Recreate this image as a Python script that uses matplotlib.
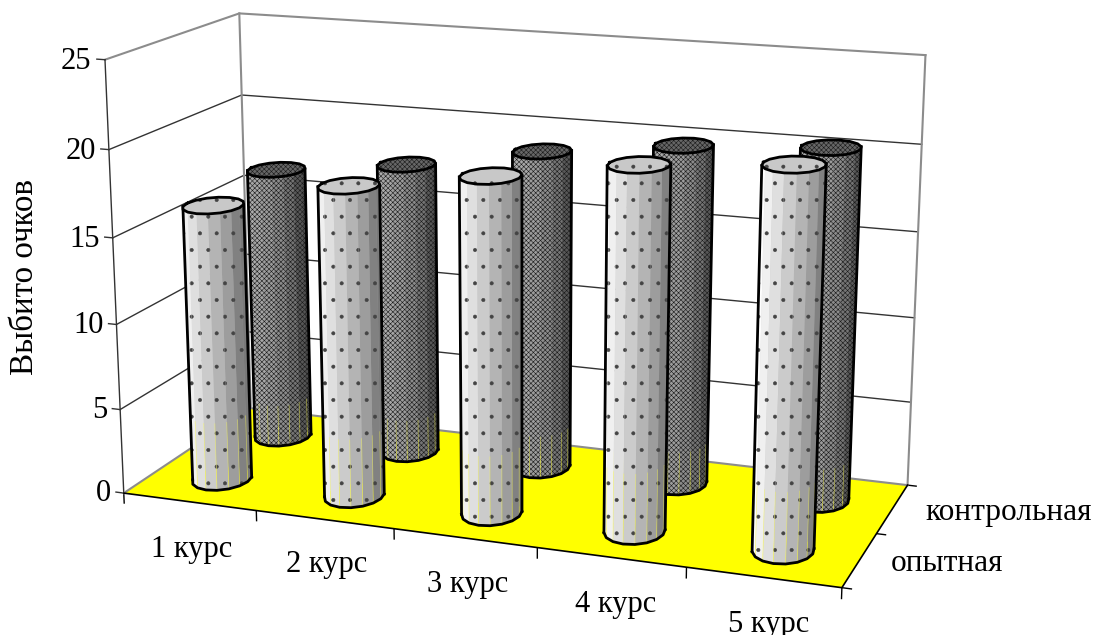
import numpy as np
import matplotlib
matplotlib.use("Agg")
import matplotlib.pyplot as plt
from mpl_toolkits.mplot3d import proj3d
from mpl_toolkits.mplot3d.art3d import Poly3DCollection

courses = ["1 курс", "2 курс", "3 курс", "4 курс", "5 курс"]
series_names = ["опытная", "контрольная"]
opytnaya = [16.25, 18.05, 19.25, 20.5, 21.15]
kontrolnaya = [16.55, 17.5, 18.9, 19.85, 20.35]
z_ticks = [0, 5, 10, 15, 20, 25]

plt.rcParams["font.family"] = ["Liberation Serif", "DejaVu Serif"]
plt.rcParams["hatch.linewidth"] = 0.4

fig = plt.figure(figsize=(10.96, 6.35), dpi=100)
ax = fig.add_axes([0.0542, -0.1589, 0.8133, 1.4037], projection="3d")
ax.set_xlim(0, 1)
ax.set_ylim(0, 1)
ax.set_zlim(0, 25)
ax.view_init(15.17, -69.94, 0.035)
ax.set_proj_type("persp", focal_length=0.5307)
ax.set_box_aspect((1, 0.3972, 0.5998))
ax.computed_zorder = False
ax.set_xticks([])
ax.set_yticks([])
ax.set_zticks([])
ax.set_axis_off()
ax.patch.set_alpha(0)

GRID = "#333333"
WALL = "#8c8c8c"

# walls
for z in z_ticks[1:-1]:
    ax.plot([0, 0, 1], [0, 1, 1], [z, z, z], color=GRID, lw=1, zorder=2)
ax.plot([0, 0, 1], [0, 1, 1], [25, 25, 25], color=WALL, lw=1.5, zorder=2)
ax.plot([0, 0], [1, 1], [0, 25], color=WALL, lw=1.5, zorder=2)
ax.plot([1, 1], [1, 1], [0, 25], color=WALL, lw=1.5, zorder=2)
ax.plot([0, 0], [0, 0], [0, 25], color=GRID, lw=1, zorder=2)

# floor
floor = Poly3DCollection([[(0, 0, 0), (1, 0, 0), (1, 1, 0), (0, 1, 0)]],
                         facecolor="#ffff00", edgecolor="none", zorder=3)
ax.add_collection3d(floor)
ax.plot([0, 0, 1], [0, 1, 1], [0, 0, 0], color=WALL, lw=1.5, zorder=4)
ax.plot([0, 1, 1], [0, 0, 1], [0, 0, 0], color="black", lw=1.2, zorder=4)

# ticks
for z in z_ticks:
    ax.plot([-0.012, 0], [0, 0], [z, z], color=GRID, lw=1, zorder=2)
    ax.text(-0.02, 0, z - 0.15, str(z), ha="right", va="center", fontsize=22)
for x in np.linspace(0, 1, len(courses) + 1):
    ax.plot([x, x], [0, 0], [0, -0.6], color="black", lw=1, zorder=2)
for y in np.linspace(0, 1, len(series_names) + 1):
    ax.plot([1, 1.012], [y, y], [0, 0], color="black", lw=1, zorder=2)

# labels
label_drop = [-2.9, -2.65, -2.65, -2.65, -2.6]
for i, name in enumerate(courses):
    ax.text((i + 0.5) / len(courses) + 0.002 * i, 0, label_drop[i], name, ha="center", va="center", fontsize=22)
ax.text(1.04, 0.25, 0, series_names[0], ha="left", va="center", fontsize=22.6)
ax.text(1.045, 0.75, 0, series_names[1], ha="left", va="center", fontsize=22.6)
fig.text(25 / 1096, 1 - 277 / 635, "Выбито очков", rotation=90, ha="center", va="center", fontsize=23.8)

# cylinders
n_sides = 16
theta = np.linspace(-180, 180, n_sides, endpoint=False)
rx = 0.039
ry = 0.125
shade_t = [-180, -150, -120, -90, -60, -30, 0, 180]
light_shade = [0.9, 1.0, 0.93, 0.84, 0.72, 0.6, 0.45, 0.9]
dark_shade = [0.5, 0.66, 0.68, 0.64, 0.56, 0.44, 0.28, 0.5]
M = ax.get_proj()


def cylinder(xc, yc, value, shades, hatch, cap_color, hatch_color, zo, yellow_top):
    xs = xc + rx * np.cos(np.radians(theta))
    ys = yc + ry * np.sin(np.radians(theta))
    sides, cols = [], []
    for i in range(n_sides):
        j = (i + 1) % n_sides
        sides.append([(xs[i], ys[i], 0), (xs[j], ys[j], 0), (xs[j], ys[j], value), (xs[i], ys[i], value)])
        g = np.interp(theta[i] + 11, shade_t, shades)
        cols.append((g, g, g))
    ax.add_collection3d(Poly3DCollection(sides, facecolors=cols, edgecolors=hatch_color, linewidths=0,
                                         hatch=hatch, zorder=zo))
    px, _, _ = proj3d.proj_transform(xs, ys, np.zeros(n_sides), M)
    il, ir = int(np.argmin(px)), int(np.argmax(px))
    arc = np.arange(il, ir + 1 if ir >= il else ir + n_sides + 1) % n_sides
    for k in arc:
        ax.plot([xs[k], xs[k]], [ys[k], ys[k]], [0, yellow_top], color="#ffff40", lw=0.5, alpha=0.5, zorder=zo + 0.05)
    ax.plot(xs[arc], ys[arc], np.zeros(len(arc)), color="black", lw=2, zorder=zo + 0.1)
    for k in (il, ir):
        ax.plot([xs[k], xs[k]], [ys[k], ys[k]], [0, value], color="black", lw=2, zorder=zo + 0.1)
    cap = [list(zip(xs, ys, np.full(n_sides, value)))]
    ax.add_collection3d(Poly3DCollection(cap, facecolors=cap_color, edgecolors=hatch_color, linewidths=0,
                                         hatch=hatch, zorder=zo + 0.2))
    ax.plot(np.r_[xs, xs[0]], np.r_[ys, ys[0]], np.full(n_sides + 1, value), color="black", lw=2, zorder=zo + 0.3)


for i, v in enumerate(kontrolnaya):
    cylinder((i + 0.5) / 5, 0.75, v, dark_shade, "xxxxxxx", "#666666", "#1a1a1a", 10 + i, 2.5)
for i, v in enumerate(opytnaya):
    cylinder((i + 0.5) / 5, 0.25, v, light_shade, ".", "#c8c8c8", "#444444", 20 + i, 4)

fig.savefig("out.png", dpi=100)
